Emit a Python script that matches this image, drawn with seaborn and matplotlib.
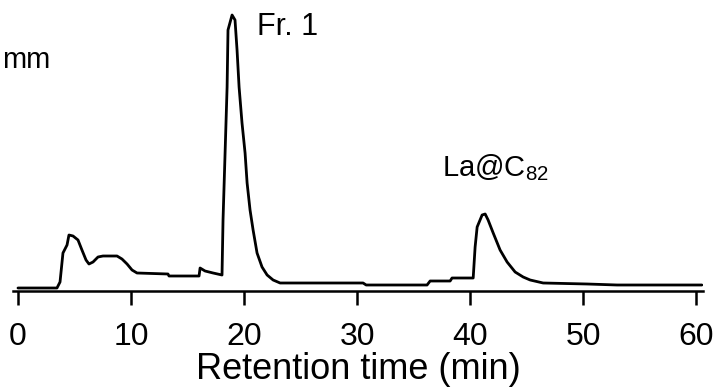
import matplotlib
matplotlib.use("Agg")
import matplotlib.pyplot as plt
import seaborn as sns
import pandas as pd

# Retention time (min) and detector response (arbitrary units)
time_min = [0.0, 3.45, 3.72, 3.98, 4.34, 4.51, 4.87, 5.31, 5.66, 6.02, 6.28, 6.64,
            7.08, 7.52, 8.76, 9.20, 9.65, 10.09, 10.53, 13.27, 13.36, 16.02, 16.11,
            16.55, 17.26, 18.05, 18.14, 18.50, 18.58, 18.94, 19.20, 19.38, 19.56,
            19.82, 20.09, 20.27, 20.53, 20.80, 21.15, 21.59, 22.04, 22.57, 23.19,
            30.53, 30.80, 36.19, 36.46, 38.23, 38.40, 40.27, 40.44, 40.62, 41.06,
            41.33, 41.59, 42.04, 42.65, 43.27, 43.98, 44.69, 45.31, 46.46, 50.35,
            53.00, 60.50]
response = [3, 3, 9, 38, 46, 56, 55, 51, 41, 31, 27, 29,
            34, 35, 35, 32, 27, 21, 18, 17, 15, 15, 23,
            20, 18, 16, 71, 204, 261, 276, 271, 241, 204,
            168, 138, 108, 81, 61, 38, 24, 16, 11, 8,
            8, 6, 6, 10, 10, 13, 13, 44, 64, 76,
            77, 71, 58, 41, 29, 19, 14, 11, 8, 7,
            6, 6]
x_ticks = [0, 10, 20, 30, 40, 50, 60]
x_label = "Retention time (min)"
peak_labels = ["Fr. 1", "La@C$_{82}$"]
unit_label = "mm"

sns.set_theme(style="ticks")
plt.rcParams["font.family"] = ["Liberation Sans", "DejaVu Sans"]
plt.rcParams["mathtext.fontset"] = "custom"
plt.rcParams["mathtext.rm"] = "Liberation Sans"
plt.rcParams["mathtext.it"] = "Liberation Sans"
plt.rcParams["mathtext.bf"] = "Liberation Sans"

df = pd.DataFrame({"t": time_min, "r": response})

W, H = 716, 390
fig = plt.figure(figsize=(W / 100, H / 100), dpi=100)
ax = fig.add_axes([13 / W, 1 - 291 / H, (703 - 13) / W, (291 - 5) / H])

sns.lineplot(data=df, x="t", y="r", ax=ax, color="black", linewidth=2.0)

ax.set_xlim(-0.44, 60.6)
ax.set_ylim(0, 286)
ax.set_xticks(x_ticks)
ax.set_xticklabels([str(v) for v in x_ticks])
ax.set_yticks([])
sns.despine(ax=ax, left=True, top=True, right=True)
ax.spines["bottom"].set_linewidth(1.8)
ax.spines["bottom"].set_color("black")
ax.tick_params(axis="x", direction="out", length=10, width=1.8, colors="black",
               labelsize=23, pad=12)
ax.set_xlabel(x_label, fontsize=26, color="black", labelpad=0)
ax.set_ylabel("")
ax.set_facecolor("white")

fig.text(257 / W, 1 - 35 / H, peak_labels[0], fontsize=22, color="black",
         ha="left", va="baseline")
fig.text(442 / W, 1 - 176 / H, peak_labels[1], fontsize=21, color="black",
         ha="left", va="baseline")
fig.text(2 / W, 1 - 68 / H, unit_label, fontsize=21, color="black",
         ha="left", va="baseline")

fig.savefig("out.png", dpi=100, facecolor="white")
